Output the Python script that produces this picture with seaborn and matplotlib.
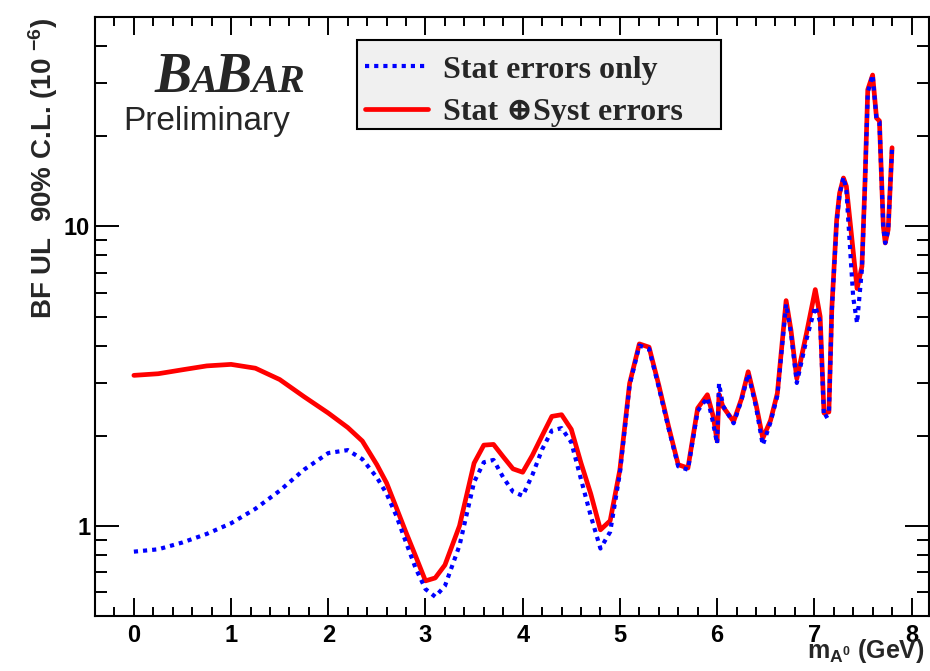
import matplotlib
matplotlib.use("Agg")
import matplotlib.pyplot as plt
from matplotlib.lines import Line2D
from matplotlib.patches import Rectangle
from matplotlib.font_manager import FontProperties
from matplotlib.ticker import FixedLocator, MultipleLocator, NullFormatter, FixedFormatter
import pandas as pd
import seaborn as sns

# A0 mass hypotheses (GeV)
mass_gev = [0.0, 0.25, 0.5, 0.75, 1.0, 1.25, 1.5, 1.75, 2.0, 2.2, 2.35, 2.5, 2.6, 2.7,
            2.8, 2.9, 3.0, 3.1, 3.2, 3.35, 3.5, 3.6, 3.7, 3.8, 3.9, 4.0, 4.1, 4.2, 4.3,
            4.4, 4.5, 4.6, 4.7, 4.8, 4.9, 5.0, 5.1, 5.2, 5.3, 5.4, 5.5, 5.6, 5.7, 5.8,
            5.9, 5.96, 6.0, 6.02, 6.06, 6.17, 6.25, 6.32, 6.4, 6.47, 6.55, 6.62, 6.71,
            6.76, 6.82, 6.92, 7.01, 7.06, 7.1, 7.15, 7.18, 7.23, 7.26, 7.3, 7.33, 7.4,
            7.44, 7.49, 7.52, 7.55, 7.6, 7.64, 7.67, 7.71, 7.73, 7.76, 7.8]

# 90% C.L. upper limits on the branching fraction (units of 1e-6)
ul_stat_only = [0.82, 0.835, 0.88, 0.94, 1.02, 1.14, 1.31, 1.54, 1.75, 1.79, 1.67, 1.45,
                1.28, 1.08, 0.88, 0.72, 0.615, 0.58, 0.63, 0.86, 1.40, 1.63, 1.66, 1.45,
                1.30, 1.26, 1.48, 1.80, 2.08, 2.12, 1.90, 1.43, 1.08, 0.84, 0.955, 1.50,
                2.95, 4.0, 3.9, 2.9, 2.12, 1.58, 1.54, 2.42, 2.68, 2.20, 1.88, 2.99, 2.52,
                2.20, 2.62, 3.22, 2.50, 1.86, 2.22, 2.72, 5.5, 4.4, 3.0, 4.2, 5.4, 4.8,
                2.3, 2.35, 5.2, 10.3, 12.8, 14.6, 13.2, 5.8, 4.75, 7.2, 13.3, 28.0, 32.0,
                22.8, 22.3, 9.9, 8.8, 9.7, 18.3]

ul_stat_syst = [3.18, 3.22, 3.32, 3.42, 3.46, 3.36, 3.08, 2.70, 2.38, 2.13, 1.92, 1.60,
                1.39, 1.15, 0.95, 0.79, 0.655, 0.67, 0.74, 1.0, 1.62, 1.86, 1.87, 1.70,
                1.55, 1.51, 1.72, 2.0, 2.32, 2.35, 2.10, 1.62, 1.28, 0.97, 1.04, 1.54,
                2.99, 4.05, 3.95, 2.95, 2.15, 1.60, 1.56, 2.47, 2.74, 2.32, 1.92, 2.75,
                2.50, 2.23, 2.65, 3.27, 2.55, 1.96, 2.25, 2.77, 5.65, 4.5, 3.10, 4.40,
                6.15, 5.0, 2.38, 2.40, 5.3, 10.5, 12.9, 14.5, 13.6, 8.25, 6.2, 7.35,
                13.6, 28.6, 32.0, 23.0, 22.5, 10.0, 8.8, 9.75, 18.3]

series_labels = ["Stat errors only", "Stat \u2295Syst errors"]

sns.set_theme(style="ticks")
plt.rcParams["font.family"] = ["Liberation Sans", "DejaVu Sans"]
plt.rcParams["mathtext.fontset"] = "custom"
plt.rcParams["mathtext.rm"] = "Liberation Sans"
plt.rcParams["mathtext.bf"] = "Liberation Sans:bold"
plt.rcParams["mathtext.it"] = "Liberation Sans:bold"
plt.rcParams["mathtext.default"] = "bf"

df = pd.DataFrame({"mass": mass_gev, "stat": ul_stat_only, "syst": ul_stat_syst})

fig = plt.figure(figsize=(9.3, 6.71), dpi=100)
fig.patch.set_facecolor("white")
ax = fig.add_axes([95 / 930, 1 - 616 / 671, (929 - 95) / 930, (616 - 17) / 671])
ax.set_facecolor("white")

sns.lineplot(data=df, x="mass", y="syst", ax=ax, color="#ff0000", linewidth=3.4,
             estimator=None, sort=False, legend=False)
sns.lineplot(data=df, x="mass", y="stat", ax=ax, color="#0000ff", linewidth=3.0,
             estimator=None, sort=False, legend=False)
red_line, blue_line = ax.get_lines()[0], ax.get_lines()[1]
blue_line.set_linestyle((0, (1.0, 1.2)))
blue_line.set_dash_capstyle("butt")

ax.set_yscale("log")
ax.set_xlim(-0.4, 8.18)
ax.set_ylim(0.5, 50)

# axis ticks
ax.xaxis.set_major_locator(MultipleLocator(1))
ax.xaxis.set_minor_locator(MultipleLocator(0.2))
ax.yaxis.set_major_locator(FixedLocator([1, 10]))
ax.yaxis.set_major_formatter(FixedFormatter(["1", "10"]))
ax.yaxis.set_minor_locator(FixedLocator([0.5, 0.6, 0.7, 0.8, 0.9, 2, 3, 4, 5, 6, 7, 8, 9,
                                         20, 30, 40]))
ax.yaxis.set_minor_formatter(NullFormatter())

ax.tick_params(which="both", direction="in", top=True, right=True, width=1.4,
               color="black", labelcolor="black")
ax.tick_params(axis="x", which="major", length=13, pad=6, labelsize=17)
ax.tick_params(axis="x", which="minor", length=6.5)
ax.tick_params(axis="y", which="major", length=17, pad=3.5, labelsize=17)
ax.tick_params(axis="y", which="minor", length=8.5)
for lab in ax.get_xticklabels() + ax.get_yticklabels():
    lab.set_fontweight("bold")
for sp in ax.spines.values():
    sp.set_visible(True)
    sp.set_linewidth(1.5)
    sp.set_color("black")
ax.set_xlabel("")
ax.set_ylabel("")

# axis titles
fig.text(43 / 930, 1 - 18 / 671, "BF UL  90% C.L. (10 $^{-6}$)", rotation=90,
         ha="center", va="top", fontsize=20, fontweight="bold")
fig.text(925 / 930, 1 - 658 / 671, "m$_{A^0}$ (GeV)", ha="right", va="baseline",
         fontsize=18, fontweight="bold")

# experiment logo
logo_font = dict(family=["Liberation Serif", "DejaVu Serif"], weight="bold", style="italic")
base_y = 1 - 92 / 671
fig.text(155 / 930, base_y, "B", fontsize=40, va="baseline", **logo_font)
fig.text(190 / 930, base_y, "A", fontsize=29, va="baseline", **logo_font)
fig.text(215 / 930, base_y, "B", fontsize=40, va="baseline", **logo_font)
fig.text(251 / 930, base_y, "AR", fontsize=29, va="baseline", **logo_font)
fig.text(123 / 930, 1 - 130 / 671, "Preliminary", fontsize=24, va="baseline",
         family=["Liberation Sans", "DejaVu Sans"])

# legend: grey box with black border, entries placed inside it
legend_box = Rectangle((357 / 930, 1 - 129 / 671), 364 / 930, 89 / 671,
                       transform=fig.transFigure, facecolor="#f0f0f0",
                       edgecolor="black", linewidth=1.5, zorder=3)
fig.patches.append(legend_box)
handles = [Line2D([], [], color="#0000ff", linewidth=3.0, linestyle=(0, (1.0, 1.2))),
           Line2D([], [], color="#ff0000", linewidth=3.4)]
leg = fig.legend(handles, series_labels, loc="upper left",
                 bbox_to_anchor=(357 / 930, 1 - 47 / 671),
                 borderaxespad=0, frameon=False, handlelength=1.95,
                 handletextpad=0.47, borderpad=0.26, labelspacing=0.42,
                 prop=FontProperties(family=["Liberation Serif", "DejaVu Serif"],
                                     weight="bold", size=23))
leg.set_zorder(4)

fig.savefig("out.png", dpi=100, facecolor="white")
